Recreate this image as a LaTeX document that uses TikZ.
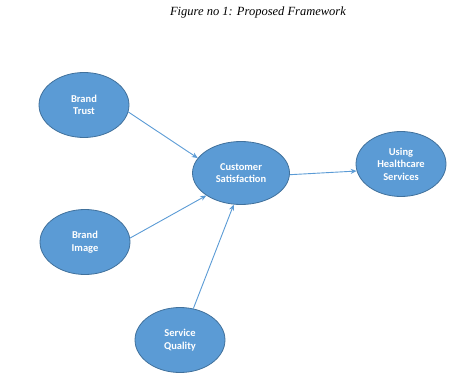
\documentclass[tikz,border=0pt]{standalone}
\usepackage{fontspec}
\setmainfont{Liberation Serif}
\newfontfamily\boxfont{Carlito}
\usetikzlibrary{arrows.meta,shapes.geometric}
\definecolor{ovalfill}{HTML}{5B9BD5}
\definecolor{ovaledge}{HTML}{41719C}
\definecolor{arrowcol}{HTML}{5B9BD5}
\tikzset{
  oval/.style={ellipse, draw=ovaledge, line width=0.8pt, fill=ovalfill, minimum width=#1, minimum height=65pt, inner sep=0pt,
    text=white, font=\boxfont\bfseries\fontsize{10.5}{12.5}\selectfont, align=center},
  oval/.default=90pt,
  link/.style={draw=arrowcol, line width=0.9pt, -{Stealth[length=6pt,width=5pt]}}
}
\begin{document}
\begin{tikzpicture}[x=1pt,y=-1pt]
\useasboundingbox (0,0) rectangle (468,390);
\node[font=\itshape\fontsize{12.5}{14}\selectfont] (title) at (258,12) {Figure no 1: Proposed Framework};
\node[oval] (bt) at (84,105) {Brand\\Trust};
\node[oval] (bi) at (85,242) {Brand\\Image};
\node[oval=97pt, minimum height=63pt] (cs) at (241,173) {Customer\\Satisfaction};
\node[oval] (uh) at (401,164) {Using\\Healthcare\\Services};
\node[oval] (sq) at (180,340) {Service\\Quality};
\draw[link] (bt.-9) -- (cs.161);
\draw[link] (bi.5) -- (cs.213);
\draw[link] (sq.67) -- (cs.257);
\draw[link] (cs.-2) -- (uh.189);
\end{tikzpicture}
\end{document}
